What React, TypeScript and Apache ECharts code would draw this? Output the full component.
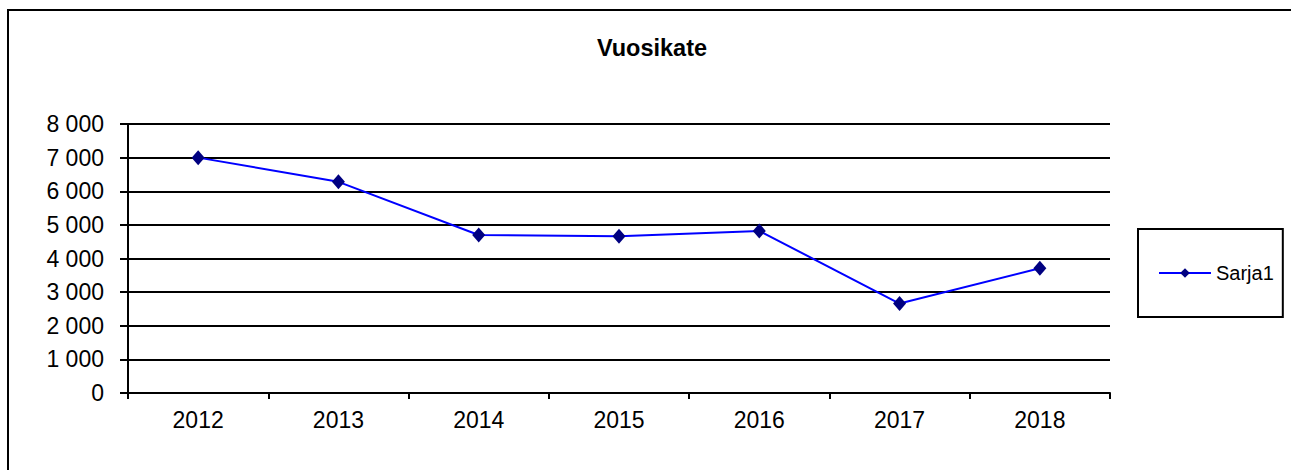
import React, { useEffect, useRef } from "react";
import * as echarts from "echarts";

const title = "Vuosikate";
const seriesName = "Sarja1";
const categories = ["2012", "2013", "2014", "2015", "2016", "2017", "2018"];
const values = [7000, 6280, 4700, 4660, 4820, 2660, 3710];
const yMin = 0;
const yMax = 8000;
const yInterval = 1000;

const FONT = "'Liberation Sans', Arial, sans-serif";

function fmt(v: number): string {
  if (v < 1000) return String(v);
  const th = Math.floor(v / 1000);
  const rest = String(v % 1000).padStart(3, "0");
  return `${th} ${rest}`;
}

export default function App() {
  const ref = useRef<HTMLDivElement>(null);
  useEffect(() => {
    if (!ref.current) return;
    const chart = echarts.init(ref.current, null, { renderer: "svg" });
    chart.setOption({
      animation: false,
      backgroundColor: "#ffffff",
      title: {
        text: title,
        left: 647,
        top: 31,
        textAlign: "center",
        textStyle: { fontFamily: FONT, fontSize: 23.5, fontWeight: "bold", color: "#000" },
      },
      graphic: [
        {
          type: "polyline",
          shape: { points: [[8, 480], [8, 10], [1291, 10]] },
          style: { stroke: "#000", lineWidth: 2, fill: "none" },
          silent: true,
        },
      ],
      legend: {
        data: [seriesName],
        left: 1138,
        top: 229,
        orient: "vertical",
        padding: [33, 9, 33, 20],
        borderColor: "#000",
        borderWidth: 2,
        itemWidth: 52,
        itemHeight: 12,
        itemGap: 5,
        textStyle: { fontFamily: FONT, fontSize: 20, color: "#000", lineHeight: 22 },
      },
      grid: { left: 128, right: 181, top: 124, bottom: 77 },
      xAxis: {
        type: "category",
        data: categories,
        boundaryGap: true,
        axisLine: { lineStyle: { color: "#000", width: 2 } },
        axisTick: { show: true, length: 6, lineStyle: { color: "#000", width: 2 } },
        axisLabel: { fontFamily: FONT, fontSize: 23, color: "#000", margin: 15 },
        splitLine: { show: false },
      },
      yAxis: {
        type: "value",
        min: yMin,
        max: yMax,
        interval: yInterval,
        axisLine: { show: true, lineStyle: { color: "#000", width: 2 } },
        axisTick: { show: true, length: 8, lineStyle: { color: "#000", width: 2 } },
        axisLabel: {
          fontFamily: FONT,
          fontSize: 23,
          color: "#000",
          margin: 24,
          formatter: (v: number) => fmt(v),
        },
        splitLine: { show: true, lineStyle: { color: "#000", width: 2 } },
      },
      series: [
        {
          name: seriesName,
          type: "line",
          data: values,
          symbol: "diamond",
          symbolSize: [13, 15],
          lineStyle: { color: "#0000ff", width: 2 },
          itemStyle: { color: "#000080" },
        },
      ],
    });
    return () => chart.dispose();
  }, []);
  return (
    <div
      ref={ref}
      style={{ position: "fixed", left: 0, top: 0, width: 1291, height: 470, overflow: "hidden" }}
    />
  );
}
